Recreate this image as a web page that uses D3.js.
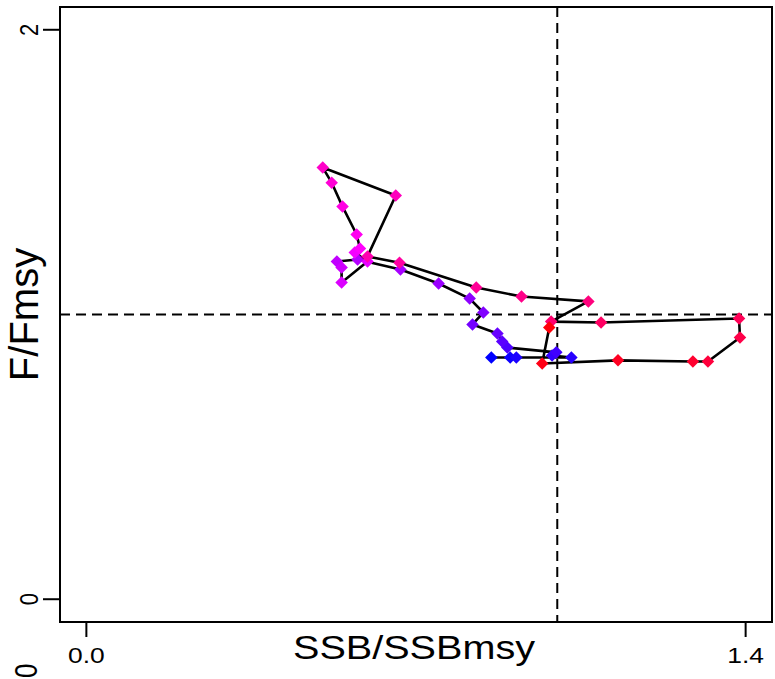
<!DOCTYPE html>
<html>
<head>
<meta charset="utf-8">
<script src="https://cdn.jsdelivr.net/npm/d3@7"></script>
<style>
  html, body { margin: 0; padding: 0; background: #fff; }
  svg { display: block; font-family: "Liberation Sans", Arial, sans-serif; }
</style>
</head>
<body>
<svg id="chart" width="775" height="679"></svg>
<script>
// Trajectory of SSB/SSBmsy (x) and F/Fmsy (y), in time order (blue = first, red = last)
const ssb = [0.860, 0.900, 0.913, 1.030, 0.989, 0.998, 0.894, 0.883, 0.873, 0.820,
             0.843, 0.814, 0.748, 0.667, 0.576, 0.532, 0.542, 0.542, 0.597, 0.570,
             0.581, 0.574, 0.544, 0.521, 0.502, 0.657, 0.597, 0.665, 0.828, 0.924,
             1.066, 0.987, 1.093, 1.386, 1.388, 1.320, 1.288, 1.129, 0.968, 0.983];
const fRatio = [0.849, 0.849, 0.849, 0.849, 0.856, 0.867, 0.884, 0.905, 0.933, 0.965,
                1.007, 1.056, 1.109, 1.158, 1.193, 1.186, 1.165, 1.112, 1.186, 1.218,
                1.232, 1.281, 1.379, 1.463, 1.516, 1.418, 1.204, 1.182, 1.095, 1.063,
                1.046, 0.975, 0.972, 0.986, 0.919, 0.835, 0.835, 0.839, 0.828, 0.954];
const xTicks = [0, 1.4];
const xTickLabels = ["0.0", "1.4"];
const yTicks = [0, 2];
const yTickLabels = ["0", "2"];
const refX = 1;   // SSB/SSBmsy = 1
const refY = 1;   // F/Fmsy = 1
const xTitle = "SSB/SSBmsy";
const yTitle = "F/Fmsy";
const strayLabel = "0";

const points = ssb.map((v, i) => ({ x: v, y: fRatio[i], i }));
const n = points.length;

const svg = d3.select("#chart");
const L = 60, R = 772, T = 7, B = 622;
const SX = 1.2; // horizontal stretch of the text in the reference

const x = d3.scaleLinear().domain([-0.056, 1.456]).range([L, R]);
const y = d3.scaleLinear().domain([-0.08, 2.08]).range([B, T]);
const hue = d3.scaleLinear().domain([0, n - 1]).range([240, 358]);

// reference lines
svg.append("line")
  .attr("x1", x(refX)).attr("x2", x(refX)).attr("y1", T).attr("y2", B)
  .attr("stroke", "#000").attr("stroke-width", 2).attr("stroke-dasharray", "10,6");
svg.append("line")
  .attr("x1", L).attr("x2", R).attr("y1", y(refY)).attr("y2", y(refY))
  .attr("stroke", "#000").attr("stroke-width", 2).attr("stroke-dasharray", "10,6");

// path
svg.append("path")
  .datum(points)
  .attr("d", d3.line().x(d => x(d.x)).y(d => y(d.y)))
  .attr("fill", "none").attr("stroke", "#000").attr("stroke-width", 2.6)
  .attr("stroke-linejoin", "round");

// points (diamonds)
const sym = d3.symbol().type(d3.symbolDiamond2).size(100);
svg.append("g").selectAll("path")
  .data(points)
  .join("path")
  .attr("d", sym)
  .attr("transform", d => `translate(${x(d.x)},${y(d.y)})`)
  .attr("fill", d => d3.hsl(hue(d.i), 1, 0.5).toString());

// frame
svg.append("rect")
  .attr("x", L).attr("y", T).attr("width", R - L).attr("height", B - T)
  .attr("fill", "none").attr("stroke", "#000").attr("stroke-width", 2);

// x axis ticks
const xAxis = svg.append("g");
xTicks.forEach((t, k) => {
  xAxis.append("line").attr("x1", x(t)).attr("x2", x(t)).attr("y1", B).attr("y2", B + 15)
    .attr("stroke", "#000").attr("stroke-width", 2);
  xAxis.append("text")
    .attr("transform", `translate(${x(t)},663) scale(${SX},1)`)
    .attr("text-anchor", "middle").attr("font-size", 22).text(xTickLabels[k]);
});
// y axis ticks
const yAxis = svg.append("g");
yTicks.forEach((t, k) => {
  yAxis.append("line").attr("x1", L).attr("x2", L - 17).attr("y1", y(t)).attr("y2", y(t))
    .attr("stroke", "#000").attr("stroke-width", 2);
  yAxis.append("text")
    .attr("transform", `translate(38,${y(t)}) scale(${SX},1) rotate(-90)`)
    .attr("text-anchor", "middle").attr("font-size", 22).text(yTickLabels[k]);
});

// titles
svg.append("text")
  .attr("transform", `translate(414,659) scale(${SX},1)`)
  .attr("text-anchor", "middle").attr("font-size", 33).text(xTitle);
svg.append("text")
  .attr("transform", `translate(38,${(T + B) / 2}) rotate(-90)`)
  .attr("text-anchor", "middle").attr("font-size", 40).text(yTitle);

// partial label from a neighbouring panel at bottom-left
svg.append("text")
  .attr("transform", `translate(37,678) scale(${SX},1) rotate(-90)`)
  .attr("text-anchor", "start").attr("font-size", 26).text(strayLabel);
</script>
</body>
</html>
